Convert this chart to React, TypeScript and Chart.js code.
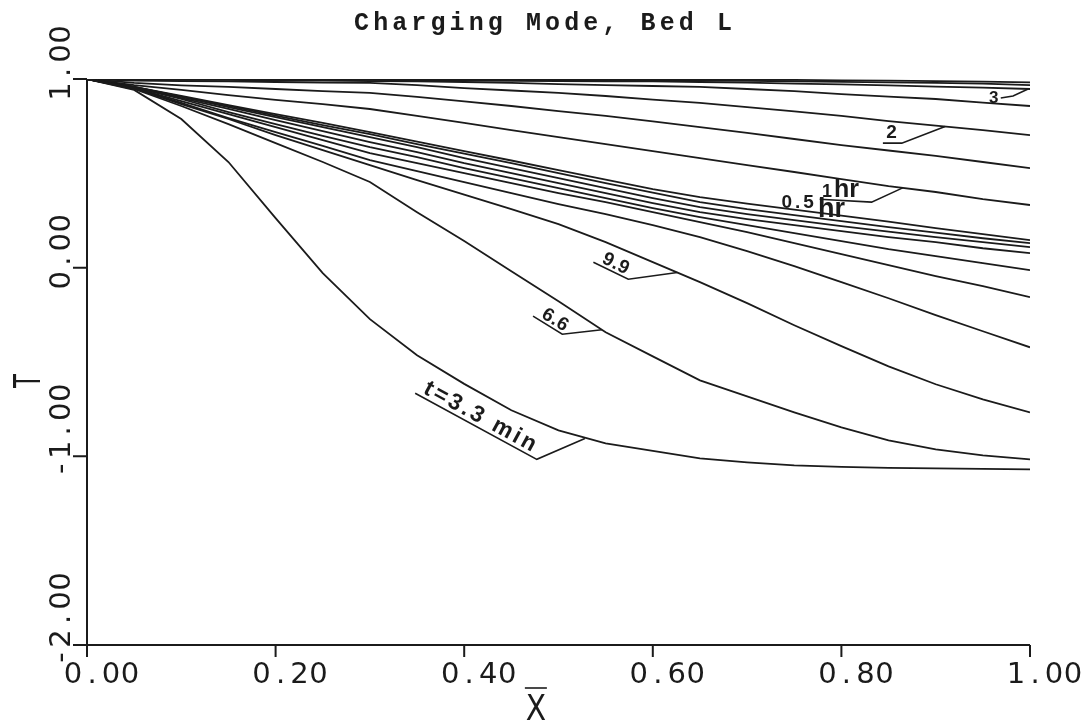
import { useEffect, useRef } from "react";
import { Chart, registerables } from "chart.js";

Chart.register(...registerables);

// Dimensionless bed position (X̄) at which each temperature profile is sampled
const xPositions = [0, 0.05, 0.1, 0.15, 0.2, 0.25, 0.3, 0.35, 0.4, 0.45, 0.5, 0.55, 0.6, 0.65, 0.7, 0.75, 0.8, 0.85, 0.9, 0.95, 1.0];

// Dimensionless temperature T along the bed at successive charging times
const t3_3min = [1.0, 0.942, 0.788, 0.56, 0.263, -0.029, -0.273, -0.464, -0.616, -0.756, -0.862, -0.931, -0.971, -1.011, -1.032, -1.048, -1.056, -1.061, -1.064, -1.066, -1.069];
const t6_6min = [1.0, 0.947, 0.857, 0.761, 0.66, 0.56, 0.454, 0.294, 0.141, -0.019, -0.178, -0.342, -0.47, -0.597, -0.682, -0.767, -0.846, -0.915, -0.963, -0.995, -1.016];
const t9_9min = [1.0, 0.95, 0.867, 0.788, 0.703, 0.623, 0.544, 0.464, 0.387, 0.31, 0.231, 0.135, 0.029, -0.077, -0.188, -0.305, -0.416, -0.523, -0.618, -0.698, -0.767];
const t13_2min = [1.0, 0.952, 0.873, 0.793, 0.719, 0.645, 0.57, 0.512, 0.454, 0.395, 0.337, 0.284, 0.225, 0.162, 0.088, 0.008, -0.077, -0.162, -0.252, -0.337, -0.422];
const t16_5min = [1.0, 0.952, 0.883, 0.814, 0.745, 0.676, 0.607, 0.554, 0.501, 0.448, 0.395, 0.347, 0.294, 0.241, 0.188, 0.13, 0.072, 0.013, -0.045, -0.098, -0.156];
const t19_8min = [1.0, 0.955, 0.894, 0.825, 0.761, 0.698, 0.639, 0.586, 0.528, 0.475, 0.422, 0.369, 0.316, 0.268, 0.225, 0.183, 0.141, 0.098, 0.061, 0.024, -0.013];
const t23_1min = [1.0, 0.955, 0.899, 0.841, 0.782, 0.724, 0.666, 0.613, 0.554, 0.501, 0.448, 0.395, 0.342, 0.294, 0.257, 0.225, 0.194, 0.162, 0.135, 0.103, 0.077];
const t26_4min = [1.0, 0.958, 0.905, 0.851, 0.798, 0.745, 0.692, 0.639, 0.581, 0.528, 0.475, 0.422, 0.369, 0.321, 0.284, 0.252, 0.22, 0.191, 0.162, 0.135, 0.109];
const t29_7min = [1.0, 0.958, 0.907, 0.857, 0.806, 0.756, 0.708, 0.655, 0.605, 0.554, 0.501, 0.448, 0.398, 0.347, 0.31, 0.279, 0.247, 0.215, 0.186, 0.156, 0.13];
const t0_5hr = [1.0, 0.958, 0.91, 0.862, 0.814, 0.767, 0.719, 0.668, 0.618, 0.568, 0.517, 0.467, 0.416, 0.374, 0.34, 0.308, 0.276, 0.244, 0.21, 0.178, 0.146];
const t1hr = [1.0, 0.968, 0.942, 0.915, 0.889, 0.867, 0.841, 0.804, 0.767, 0.729, 0.692, 0.655, 0.618, 0.581, 0.544, 0.507, 0.469, 0.432, 0.401, 0.363, 0.332];
const t1_5hr = [1.0, 0.979, 0.966, 0.958, 0.947, 0.936, 0.926, 0.905, 0.881, 0.857, 0.83, 0.804, 0.775, 0.745, 0.714, 0.682, 0.65, 0.621, 0.592, 0.56, 0.528];
const t2hr = [1.0, 0.992, 0.989, 0.987, 0.984, 0.981, 0.979, 0.968, 0.952, 0.939, 0.926, 0.91, 0.891, 0.873, 0.851, 0.828, 0.804, 0.777, 0.753, 0.729, 0.703];
const t2_5hr = [1.0, 0.997, 0.995, 0.995, 0.992, 0.992, 0.989, 0.987, 0.984, 0.979, 0.973, 0.968, 0.963, 0.958, 0.947, 0.936, 0.92, 0.907, 0.894, 0.875, 0.857];
const t3hr = [1.0, 0.999, 0.997, 0.997, 0.996, 0.995, 0.995, 0.993, 0.992, 0.99, 0.989, 0.988, 0.987, 0.984, 0.981, 0.976, 0.971, 0.966, 0.96, 0.954, 0.947];
const t3_5hr = [1.0, 1.0, 0.999, 0.999, 0.998, 0.998, 0.997, 0.997, 0.996, 0.995, 0.994, 0.994, 0.993, 0.992, 0.99, 0.988, 0.985, 0.982, 0.979, 0.975, 0.968];
const t4hr = [1.0, 1.0, 1.0, 1.0, 1.0, 0.999, 0.999, 0.999, 0.999, 0.998, 0.998, 0.998, 0.997, 0.997, 0.996, 0.995, 0.993, 0.991, 0.989, 0.986, 0.982];

const profileNames = ["3.3 min", "6.6 min", "9.9 min", "13.2 min", "16.5 min", "19.8 min", "23.1 min", "26.4 min", "29.7 min", "0.5 hr", "1 hr", "1.5 hr", "2 hr", "2.5 hr", "3 hr", "3.5 hr", "4 hr"];
const profiles = [t3_3min, t6_6min, t9_9min, t13_2min, t16_5min, t19_8min, t23_1min, t26_4min, t29_7min, t0_5hr, t1hr, t1_5hr, t2hr, t2_5hr, t3hr, t3_5hr, t4hr];

// Axis ticks
const xTickValues = [0, 0.2, 0.4, 0.6, 0.8, 1.0];
const xTickLabels = ["0.00", "0.20", "0.40", "0.60", "0.80", "1.00"];
const yTickValues = [1, 0, -1, -2];
const yTickLabels = ["1.00", "0.00", "-1.00", "-2.00"];

const chartTitle = "Charging Mode, Bed L";
const xTitle = "X";
const yTitle = "T";

const INK = "#1b1b1b";

// Hand-lettered curve labels with their leader lines (positions in data units)
type Part = { text: string; size: number; at?: [number, number]; along?: number; lift?: number; gap?: number };
type Note = { leader: [number, number][] | null; rotated: boolean; parts: Part[] };

const curveNotes: Note[] = [
  { leader: [[0.348, -0.666], [0.477, -1.016], [0.528, -0.905]], rotated: true, parts: [{ text: "t=3.3 min", size: 23, along: 6, lift: 4, gap: 3 }] },
  { leader: [[0.473, -0.257], [0.504, -0.353], [0.546, -0.329]], rotated: true, parts: [{ text: "6.6", size: 19, along: 7, lift: 3, gap: 0.5 }] },
  { leader: [[0.537, 0.029], [0.574, -0.061], [0.626, -0.026]], rotated: true, parts: [{ text: "9.9", size: 19, along: 7, lift: 3, gap: 0.5 }] },
  { leader: [[0.844, 0.66], [0.864, 0.66], [0.91, 0.748]], rotated: false, parts: [{ text: "2", size: 19, at: [0.8475, 0.687] }] },
  { leader: [[0.777, 0.363], [0.832, 0.3475], [0.865, 0.423]], rotated: false, parts: [{ text: "1", size: 18, at: [0.7794, 0.374] }, { text: "hr", size: 25, at: [0.7922, 0.374] }] },
  { leader: null, rotated: false, parts: [{ text: "0.5", size: 19, at: [0.7365, 0.3156], gap: 3 }, { text: "hr", size: 27, at: [0.7752, 0.2679] }] },
  { leader: [[0.969, 0.899], [0.982, 0.91], [0.998, 0.947]], rotated: false, parts: [{ text: "3", size: 17, at: [0.9565, 0.8727] }] },
];

function drawCells(ctx: CanvasRenderingContext2D, text: string, left: number, baseline: number, pitch: number) {
  Array.from(text).forEach((ch, i) => {
    const w = ctx.measureText(ch).width;
    ctx.fillText(ch, left + i * pitch + (pitch - w) / 2, baseline);
  });
}

function drawSpaced(ctx: CanvasRenderingContext2D, text: string, left: number, baseline: number, gap: number) {
  let x = left;
  for (const ch of Array.from(text)) {
    ctx.fillText(ch, x, baseline);
    x += ctx.measureText(ch).width + gap;
  }
}

const framePlugin = {
  id: "plotterFrame",
  afterDraw(chart: any) {
    const ctx: CanvasRenderingContext2D = chart.ctx;
    const area = chart.chartArea;
    const xs = chart.scales.x;
    const ys = chart.scales.y;
    const X = (v: number) => xs.getPixelForValue(v);
    const Y = (v: number) => ys.getPixelForValue(v);

    ctx.save();
    ctx.strokeStyle = INK;
    ctx.fillStyle = INK;
    ctx.lineWidth = 2;

    // axis lines and outward ticks
    ctx.beginPath();
    ctx.moveTo(X(0), Y(1));
    ctx.lineTo(X(0), Y(-2));
    ctx.lineTo(X(1), Y(-2));
    yTickValues.forEach((v) => {
      ctx.moveTo(X(0) - 14, Y(v));
      ctx.lineTo(X(0), Y(v));
    });
    xTickValues.forEach((v) => {
      ctx.moveTo(X(v), Y(-2));
      ctx.lineTo(X(v), Y(-2) + 12);
    });
    ctx.stroke();

    // tick labels
    ctx.textAlign = "left";
    ctx.textBaseline = "alphabetic";
    ctx.font = "29px 'DejaVu Sans'";
    xTickLabels.forEach((t, i) => drawCells(ctx, t, X(xTickValues[i]) - 23.5, area.bottom + 38, 19));
    yTickLabels.forEach((t, i) => {
      ctx.save();
      ctx.translate(area.left - 17, Y(yTickValues[i]) + 22);
      ctx.rotate(-Math.PI / 2);
      drawCells(ctx, t, 0, 0, 19);
      ctx.restore();
    });

    // axis titles
    ctx.save();
    ctx.translate(40, (area.top + area.bottom) / 2 + 19);
    ctx.rotate(-Math.PI / 2);
    ctx.scale(0.6, 1);
    ctx.textAlign = "center";
    ctx.font = "38px 'DejaVu Sans'";
    ctx.fillText(yTitle, 0, 0);
    ctx.restore();

    const xt = X(0.476);
    ctx.save();
    ctx.translate(xt, 720);
    ctx.scale(0.85, 1);
    ctx.textAlign = "center";
    ctx.font = "35px 'DejaVu Sans'";
    ctx.fillText(xTitle, 0, 0);
    ctx.restore();
    ctx.lineWidth = 1.6;
    ctx.beginPath();
    ctx.moveTo(xt - 11, 688);
    ctx.lineTo(xt + 11, 688);
    ctx.stroke();

    // title
    ctx.font = "bold 25px 'Liberation Mono'";
    const pitch = 19.1;
    drawCells(ctx, chartTitle, 543 - (chartTitle.length * pitch) / 2, 30, pitch);

    // curve labels
    ctx.lineWidth = 1.6;
    curveNotes.forEach((note) => {
      if (note.leader) {
        ctx.beginPath();
        note.leader.forEach(([vx, vy], i) => {
          if (i === 0) ctx.moveTo(X(vx), Y(vy));
          else ctx.lineTo(X(vx), Y(vy));
        });
        ctx.stroke();
      }
      note.parts.forEach((p) => {
        ctx.font = `bold ${p.size}px 'Liberation Sans'`;
        if (note.rotated && note.leader) {
          const [a, b] = note.leader;
          const x0 = X(a[0]);
          const y0 = Y(a[1]);
          const ang = Math.atan2(Y(b[1]) - y0, X(b[0]) - x0);
          ctx.save();
          ctx.translate(x0, y0);
          ctx.rotate(ang);
          drawSpaced(ctx, p.text, p.along || 0, -(p.lift || 0), p.gap || 0);
          ctx.restore();
        } else if (p.at) {
          drawSpaced(ctx, p.text, X(p.at[0]), Y(p.at[1]), p.gap || 0);
        }
      });
    });

    ctx.restore();
  },
};

export default function App() {
  const canvasRef = useRef<HTMLCanvasElement | null>(null);

  useEffect(() => {
    const canvas = canvasRef.current;
    if (!canvas) return;
    const chart = new Chart(canvas, {
      type: "line",
      data: {
        datasets: profiles.map((vals, k) => ({
          label: profileNames[k],
          data: xPositions.map((x, i) => ({ x, y: vals[i] })),
          borderColor: INK,
          borderWidth: 1.8,
          pointRadius: 0,
          tension: 0,
          fill: false,
        })),
      },
      options: {
        responsive: false,
        animation: false,
        devicePixelRatio: 1,
        events: [],
        layout: { padding: { left: 87, right: 56, top: 79, bottom: 80 } },
        scales: {
          x: { type: "linear", min: 0, max: 1, display: false },
          y: { type: "linear", min: -2, max: 1, display: false },
        },
        plugins: {
          legend: { display: false },
          tooltip: { enabled: false },
          title: { display: false },
        },
      },
      plugins: [framePlugin],
    } as any);
    return () => chart.destroy();
  }, []);

  return (
    <div style={{ position: "fixed", left: 0, top: 0, width: 1086, height: 725, background: "#fff" }}>
      <canvas ref={canvasRef} width={1086} height={725} style={{ display: "block" }} />
    </div>
  );
}
